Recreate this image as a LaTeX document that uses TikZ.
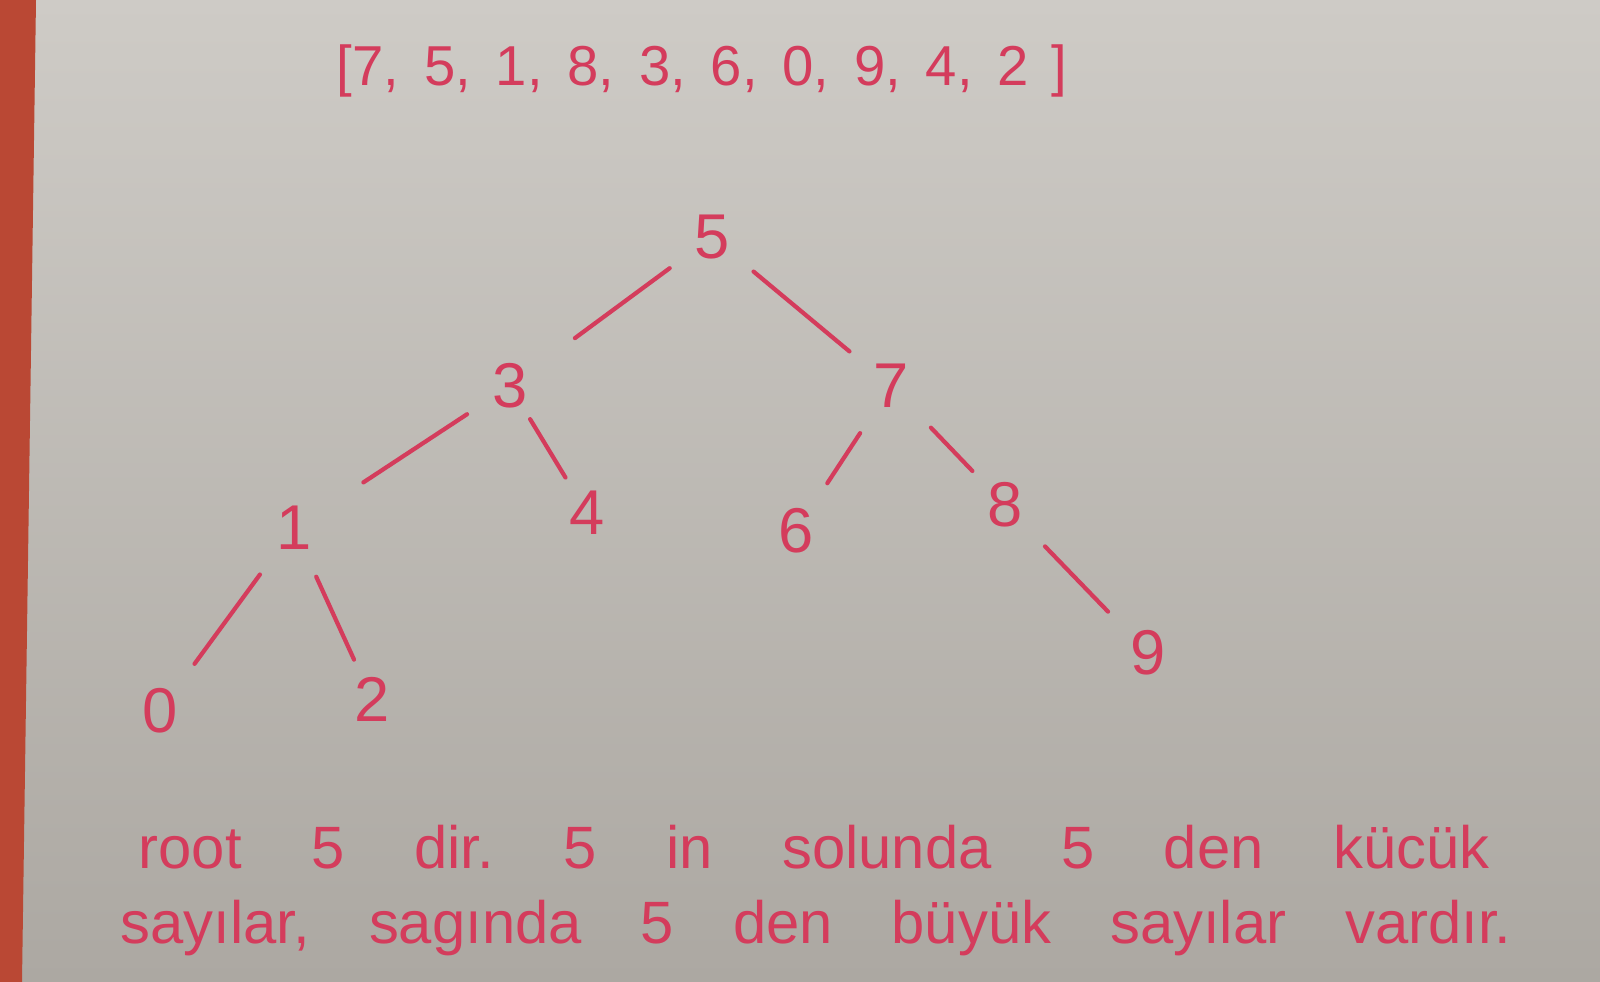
\documentclass[tikz,border=0pt]{standalone}
\usepackage{fontspec}
\setmainfont{Liberation Sans}
\usepackage{xcolor}
\usetikzlibrary{positioning,calc}

\definecolor{inkred}{RGB}{212,60,92}
\definecolor{papertop}{RGB}{206,203,198}
\definecolor{paperbottom}{RGB}{172,168,162}
\definecolor{stripred}{RGB}{186,72,52}

\begin{document}
\begin{tikzpicture}[
    x=0.01cm,
    y=-0.01cm,
    num/.style={
        text=inkred,
        font=\fontsize{18}{22}\selectfont,
        inner sep=2pt
    },
    note/.style={
        text=inkred,
        font=\fontsize{17}{20}\selectfont\frenchspacing,
        anchor=west,
        inner sep=0pt
    },
    line/.style={
        draw=inkred,
        line width=1.2pt,
        line cap=round,
        shorten <=6pt,
        shorten >=6pt
    }
]

% Paper
\useasboundingbox (0,0) rectangle (1600,982);
\shade [top color=papertop, bottom color=paperbottom] (0,0) rectangle (1600,982);
\fill [stripred] (0,0) -- (36,0) -- (22,982) -- (0,982) -- cycle;

% Input list
\node [num, font=\fontsize{16}{20}\selectfont] (list) at (702,71)
    {\makebox[7.3cm][s]{[7, 5, 1, 8, 3, 6, 0, 9, 4, 2 ]}};

% Nodes
\node [num] (n5) at (712,237) {5};
\node [num] (n3) at (510,386) {3};
\node [num] (n7) at (891,386) {7};
\node [num] (n1) at (294,528) {1};
\node [num] (n4) at (587,513) {4};
\node [num] (n6) at (796,531) {6};
\node [num] (n8) at (1005,505) {8};
\node [num] (n0) at (160,711) {0};
\node [num] (n2) at (372,699) {2};
\node [num] (n9) at (1148,653) {9};

% Edges
\path [line, shorten >=14pt] (n5) -- (n3);
\path [line] (n5) -- (n7);
\path [line, shorten >=15pt] (n3) -- (n1);
\path [line, shorten <=1pt, shorten >=2pt] (n3) -- (n4);
\path [line] (n7) -- (n6);
\path [line, shorten >=3pt] (n7) -- (n8);
\path [line] (n1) -- (n0);
\path [line, shorten >=3pt] (n1) -- (n2);
\path [line] (n8) -- (n9);

% Note
\node [note] (line1) at (138,847)
    {\makebox[13.5cm][s]{root 5 dir. 5 in solunda 5 den kücük}};
\node [note] (line2) at (120,928)
    {\makebox[13.9cm][s]{sayılar, sagında 5 den büyük sayılar vardır.}};

\end{tikzpicture}
\end{document}
